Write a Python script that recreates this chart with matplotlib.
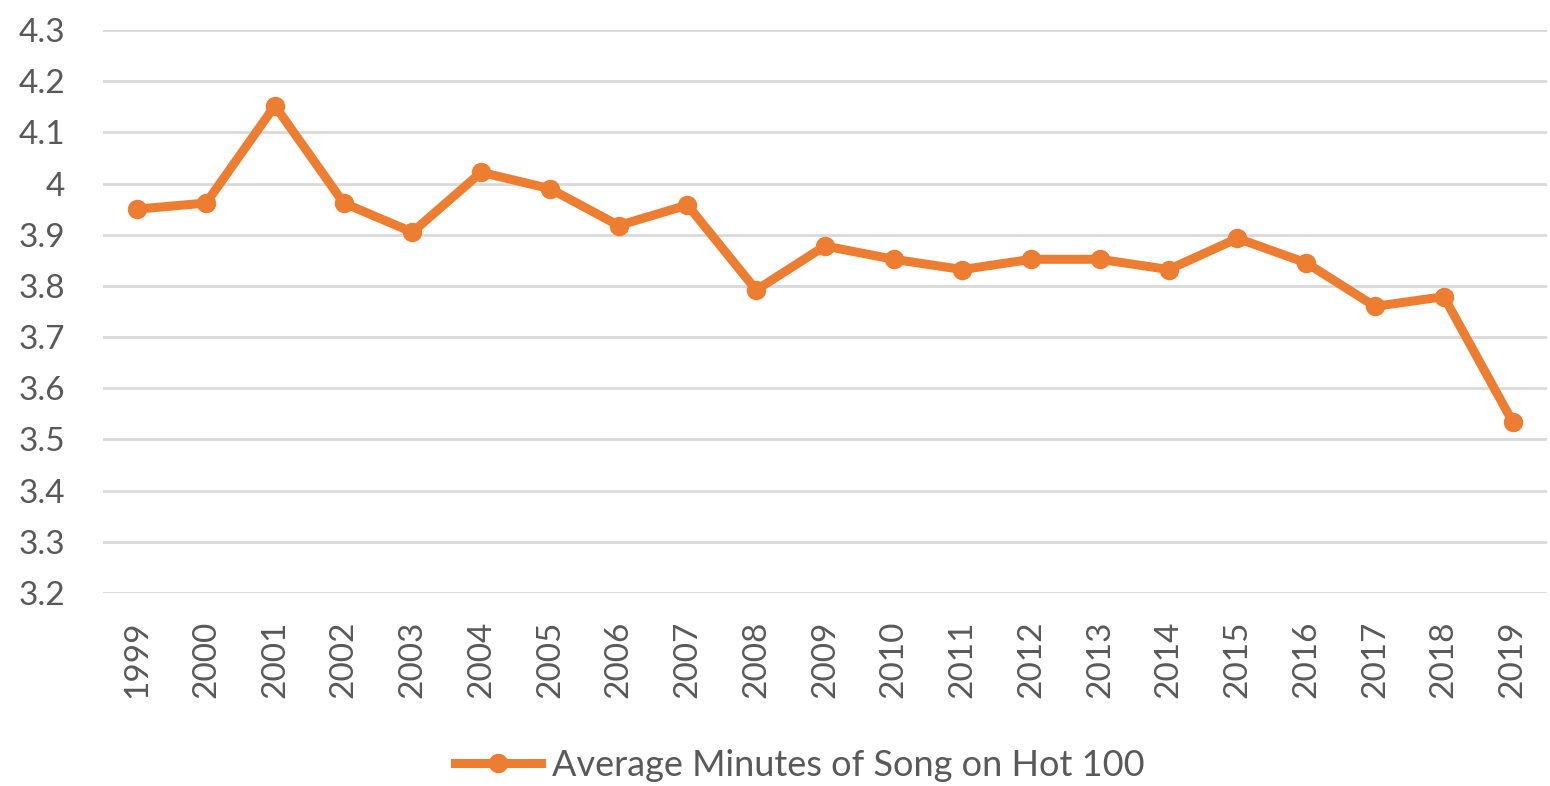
import matplotlib
matplotlib.use("Agg")

import matplotlib.pyplot as plt


years = [str(y) for y in range(1999, 2020)]
avg_minutes = [3.950, 3.962, 4.152, 3.962, 3.905, 4.022, 3.990, 3.918, 3.958, 3.792,
               3.878, 3.852, 3.832, 3.852, 3.852, 3.832, 3.893, 3.845, 3.760, 3.779, 3.535]
y_ticks = [3.2, 3.3, 3.4, 3.5, 3.6, 3.7, 3.8, 3.9, 4.0, 4.1, 4.2, 4.3]
y_labels = ["3.2", "3.3", "3.4", "3.5", "3.6", "3.7", "3.8", "3.9", "4", "4.1", "4.2", "4.3"]
series_name = "Average Minutes of Song on Hot 100"

ORANGE = "#ED7D31"
GREY_TEXT = "#595959"
GRID = "#D9D9D9"

plt.rcParams["font.family"] = ["Lato", "DejaVu Sans"]

fig = plt.figure(figsize=(15.5, 7.86), dpi=100)
ax = fig.add_axes([103 / 1550, 1 - 593 / 786, 1 - 103 / 1550 - 0.002, (593 - 30) / 786])

x = range(len(years))
ax.plot(x, avg_minutes, color=ORANGE, linewidth=6.5, marker="o", markersize=13,
        solid_joinstyle="round", label=series_name, zorder=3)

ax.set_xlim(-0.5, len(years) - 0.5)
ax.set_ylim(3.2, 4.3)
ax.set_yticks(y_ticks)
ax.set_yticklabels(y_labels)
ax.set_xticks(list(x))
ax.set_xticklabels(years, rotation=90)

ax.grid(axis="y", color=GRID, linewidth=2)
ax.set_axisbelow(True)
for s in ax.spines.values():
    s.set_visible(False)
ax.tick_params(axis="both", length=0, colors=GREY_TEXT, labelsize=24)
ax.tick_params(axis="y", pad=27)
ax.tick_params(axis="x", pad=20)

leg = fig.legend(loc="center", bbox_to_anchor=(0.516, 1 - 765 / 786), frameon=False,
                 fontsize=26, handlelength=2.4, handletextpad=0.3)
for t in leg.get_texts():
    t.set_color(GREY_TEXT)

fig.savefig("out.png", dpi=100)
